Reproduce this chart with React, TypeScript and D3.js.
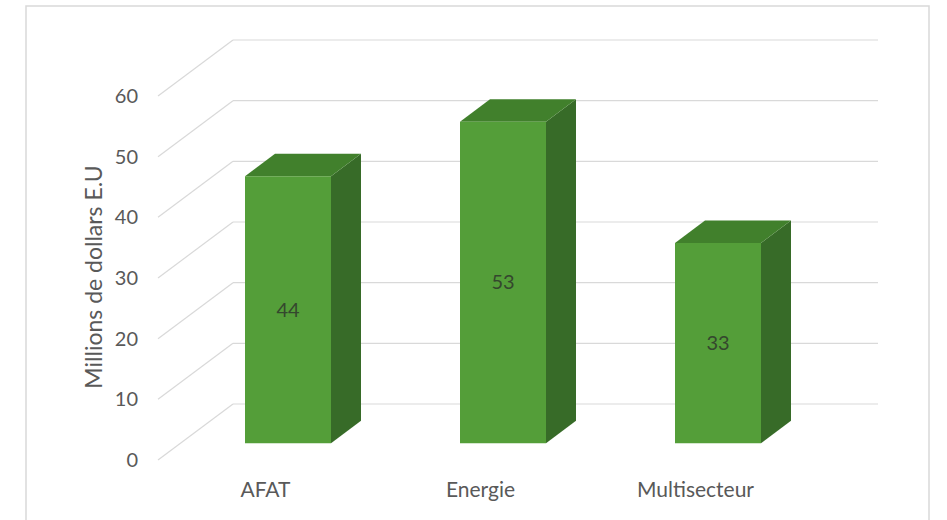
import React from "react";
import * as d3 from "d3";

// Funding by sector (millions of US dollars)
const categories: string[] = ["AFAT", "Energie", "Multisecteur"];
const values: number[] = [44, 53, 33];
const yTicks: number[] = [0, 10, 20, 30, 40, 50, 60];
const yTitle = "Millions de dollars E.U";

const W = 947;
const H = 520;

// Front edge of the floor and the oblique depth used for the 3D look
const FLOOR_LEFT = 158;
const FLOOR_RIGHT = 803;
const DEPTH_DX = 75;
const DEPTH_DY = -56;
const BAR_Z0 = 0.3;
const BAR_Z1 = 0.7;
const BAR_FRACTION = 0.4;

const FONT = "Lato, 'Open Sans', sans-serif";
const GRID = "#d9d9d9";
const TEXT = "#595959";
const FRONT = "#549e39";
const TOP = "#41802c";
const SIDE = "#376b28";

export default function App() {
  const x = d3.scaleBand<string>().domain(categories).range([FLOOR_LEFT, FLOOR_RIGHT]).padding(0);
  const y = d3.scaleLinear().domain([0, 60]).range([460, 96]);

  // project a point (screen x at front, value, depth 0..1) onto the page
  const P = (px: number, v: number, z: number): [number, number] => [px + z * DEPTH_DX, y(v) + z * DEPTH_DY];
  const poly = (pts: [number, number][]) => pts.map((p) => p.join(",")).join(" ");

  const bw = x.bandwidth() * BAR_FRACTION;

  return (
    <svg width={W} height={H} style={{ position: "absolute", left: 0, top: 0, background: "#fff" }}>
      <rect x={26} y={6} width={903} height={H} fill="#fff" stroke="#d9d9d9" strokeWidth={1.5} />

      {/* back wall gridlines and their oblique side-wall edges */}
      {yTicks.map((t) => {
        const [bx, by] = P(FLOOR_LEFT, t, 1);
        const [fx, fy] = P(FLOOR_LEFT, t, 0);
        const [ex] = P(FLOOR_RIGHT, t, 1);
        return (
          <g key={t}>
            <line x1={bx} y1={by} x2={ex} y2={by} stroke={GRID} strokeWidth={1.2} />
            <line x1={fx} y1={fy} x2={bx} y2={by} stroke={GRID} strokeWidth={1.2} />
            <text x={138} y={fy} dy="0.35em" textAnchor="end" fontFamily={FONT} fontSize={20} fill={TEXT}>
              {t}
            </text>
          </g>
        );
      })}

      {/* 3D bars */}
      {categories.map((c, i) => {
        const v = values[i];
        const x0 = (x(c) as number) + (x.bandwidth() - bw) / 2;
        const x1 = x0 + bw;
        const front: [number, number][] = [P(x0, 0, BAR_Z0), P(x1, 0, BAR_Z0), P(x1, v, BAR_Z0), P(x0, v, BAR_Z0)];
        const top: [number, number][] = [P(x0, v, BAR_Z0), P(x1, v, BAR_Z0), P(x1, v, BAR_Z1), P(x0, v, BAR_Z1)];
        const side: [number, number][] = [P(x1, 0, BAR_Z0), P(x1, 0, BAR_Z1), P(x1, v, BAR_Z1), P(x1, v, BAR_Z0)];
        const [lx, ly] = P((x0 + x1) / 2, v / 2, BAR_Z0);
        return (
          <g key={c}>
            <polygon points={poly(side)} fill={SIDE} />
            <polygon points={poly(top)} fill={TOP} />
            <polygon points={poly(front)} fill={FRONT} />
            <text x={lx} y={ly} dy="0.35em" textAnchor="middle" fontFamily={FONT} fontSize={20} fill="#34472e">
              {v}
            </text>
          </g>
        );
      })}

      {/* category labels */}
      {categories.map((c) => (
        <text
          key={c}
          x={(x(c) as number) + x.bandwidth() / 2}
          y={490}
          dy="0.35em"
          textAnchor="middle"
          fontFamily={FONT}
          fontSize={21}
          fill={TEXT}
        >
          {c}
        </text>
      ))}

      <text
        transform={`translate(94,277) rotate(-90)`}
        textAnchor="middle"
        dy="0.35em"
        fontFamily={FONT}
        fontSize={23}
        fill={TEXT}
      >
        {yTitle}
      </text>
    </svg>
  );
}
